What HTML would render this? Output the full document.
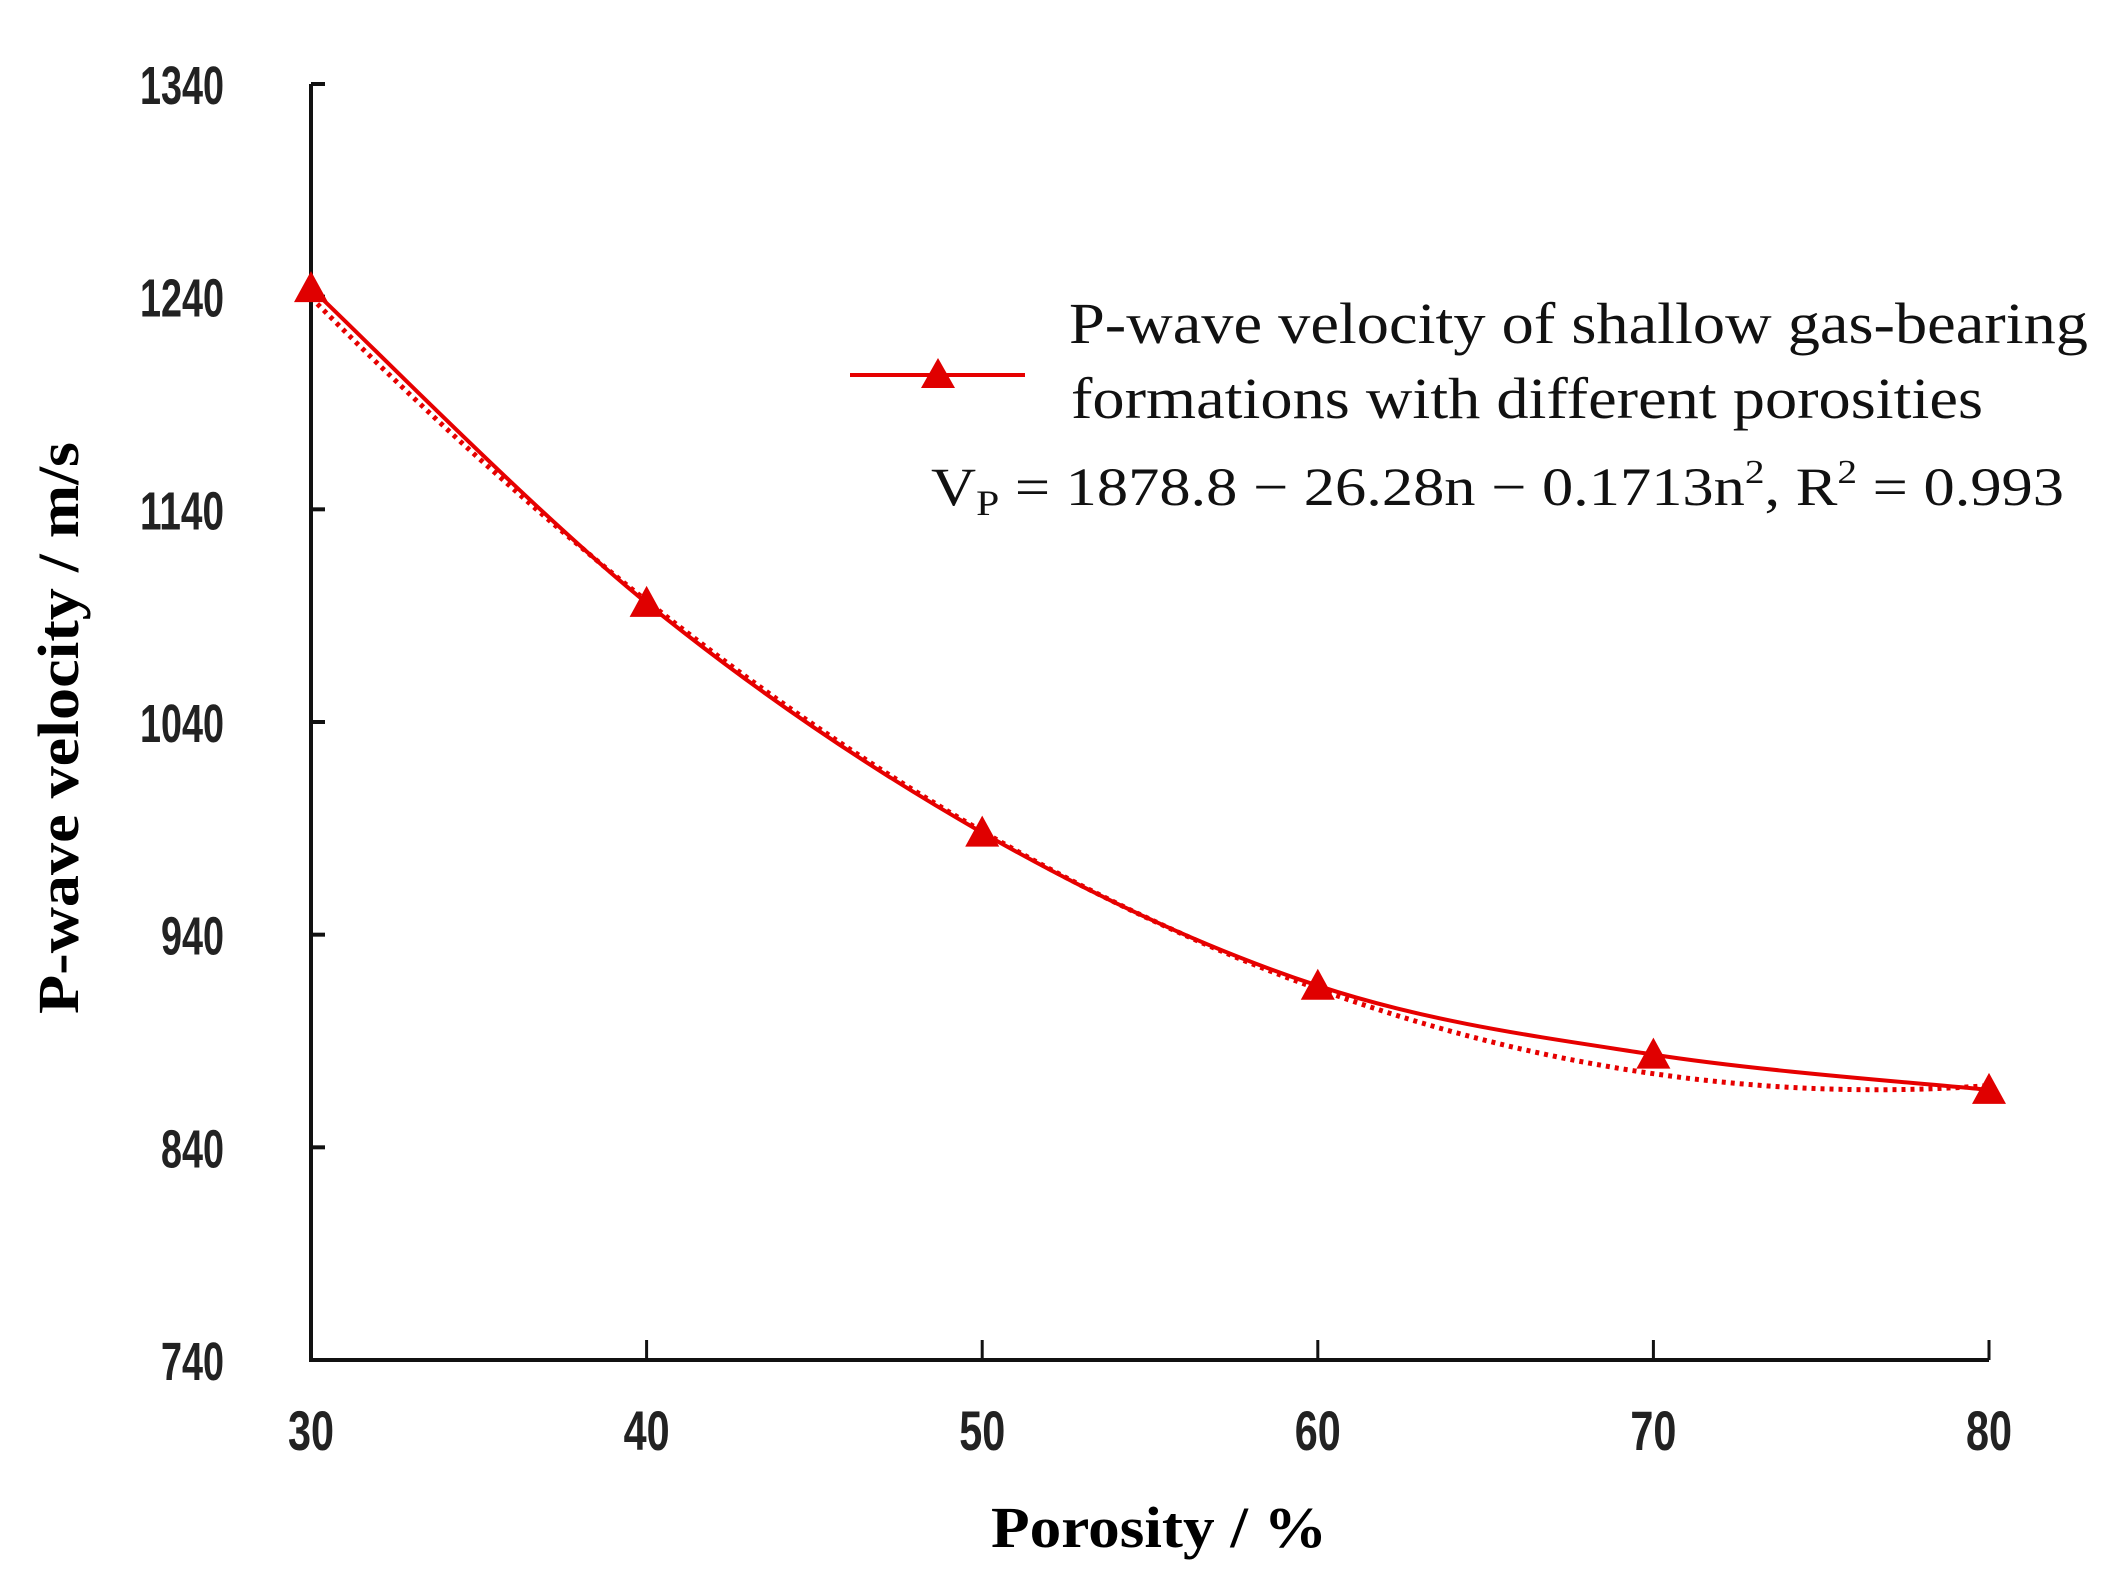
<!DOCTYPE html>
<html><head><meta charset="utf-8"><style>
html,body{margin:0;padding:0;background:#fff;}
svg{display:block;}
</style></head><body>
<svg id="chart" width="2124" height="1590" viewBox="0 0 2124 1590" xmlns="http://www.w3.org/2000/svg">
<rect width="2124" height="1590" fill="#fff"/>
<g id="axes"></g>
<g id="marks"></g>
<g>
  <line x1="850" y1="375" x2="1025" y2="375" stroke="#e60000" stroke-width="4"/>
  <polygon points="938,358 921,388 955,388" fill="#e00000"/>
  <text x="1069" y="343" font-family="Liberation Serif, serif" font-size="58" textLength="1019" lengthAdjust="spacingAndGlyphs" fill="#111">P-wave velocity of shallow gas-bearing</text>
  <text x="1071" y="418" font-family="Liberation Serif, serif" font-size="58" textLength="912" lengthAdjust="spacingAndGlyphs" fill="#111">formations with different porosities</text>
  <text x="931" y="505" font-family="Liberation Serif, serif" font-size="54" textLength="1133" lengthAdjust="spacingAndGlyphs" fill="#111">V<tspan font-size="36" dy="10">P</tspan><tspan dy="-10"> = 1878.8 − 26.28n − 0.1713n</tspan><tspan font-size="34" dy="-22">2</tspan><tspan dy="22">, R</tspan><tspan font-size="34" dy="-22">2</tspan><tspan dy="22"> = 0.993</tspan></text>
</g>
<text x="1159" y="1547" text-anchor="middle" font-family="Liberation Serif, serif" font-weight="bold" font-size="58" textLength="336" lengthAdjust="spacingAndGlyphs" fill="#000">Porosity / %</text>
<text transform="translate(78,728) rotate(-90)" text-anchor="middle" font-family="Liberation Serif, serif" font-weight="bold" font-size="58" textLength="572" lengthAdjust="spacingAndGlyphs" fill="#000">P-wave velocity / m/s</text>
</svg>
<script>
const categories = [30, 40, 50, 60, 70, 80];
const velocity = [1244, 1096, 988, 916, 883.6, 867];
const yTicks = [740, 840, 940, 1040, 1140, 1240, 1340];
const xTicks = [30, 40, 50, 60, 70, 80];

const NS = "http://www.w3.org/2000/svg";
const X0 = 311, X1 = 1989, Y0 = 1360, Y1 = 84;
const xMin = 30, xMax = 80, yMin = 740, yMax = 1340;
function sx(v){ return X0 + (v - xMin) / (xMax - xMin) * (X1 - X0); }
function sy(v){ return Y0 - (v - yMin) / (yMax - yMin) * (Y0 - Y1); }
function mk(tag, attrs, parent){
  const e = document.createElementNS(NS, tag);
  for (const k in attrs) e.setAttribute(k, attrs[k]);
  parent.appendChild(e); return e;
}
const axes = document.getElementById('axes');
const marks = document.getElementById('marks');

const ya = mk('line', {x1:X0, y1:Y1, x2:X0, y2:Y0, stroke:'#111', 'stroke-width':4}, axes);


const xa = mk('line', {x1:X0-2, y1:Y0, x2:X1, y2:Y0, stroke:'#111', 'stroke-width':4}, axes);



yTicks.forEach(v => {
  const y = sy(v);
  if (v !== yMin) {
    const t = mk('line', {x1:X0, y1:y, x2:X0+14, y2:y, stroke:'#111', 'stroke-width':4}, axes);
    
    
  }
  const l = mk('text', {x:224, y:y+20, 'text-anchor':'end', 'font-family':'Liberation Sans, sans-serif', 'font-size':54, 'font-weight':'bold', fill:'#222', textLength:(String(v).length*21), lengthAdjust:'spacingAndGlyphs'}, axes);
  l.textContent = v;
  
  
});
xTicks.forEach(v => {
  const x = sx(v);
  if (v !== xMin) {
    const t = mk('line', {x1:x, y1:Y0, x2:x, y2:Y0-20, stroke:'#111', 'stroke-width':3}, axes);
    
    
  }
  const l = mk('text', {x:x, y:1450, 'text-anchor':'middle', 'font-family':'Liberation Sans, sans-serif', 'font-size':56, 'font-weight':'bold', fill:'#222', textLength:46, lengthAdjust:'spacingAndGlyphs'}, axes);
  l.textContent = v;
  
  
});

// quadratic least-squares trend from data
(function(){
  const n = categories.length;
  let S = [0,0,0,0,0], T = [0,0,0];
  for (let i=0;i<n;i++){ const x=categories[i], y=velocity[i];
    for (let k=0;k<5;k++) S[k]+=Math.pow(x,k);
    for (let k=0;k<3;k++) T[k]+=y*Math.pow(x,k); }
  const A = [[S[0],S[1],S[2],T[0]],[S[1],S[2],S[3],T[1]],[S[2],S[3],S[4],T[2]]];
  for (let i=0;i<3;i++){ for (let j=i+1;j<3;j++){ const f=A[j][i]/A[i][i]; for(let k=i;k<4;k++) A[j][k]-=f*A[i][k]; } }
  const c=[0,0,0];
  for (let i=2;i>=0;i--){ let s=A[i][3]; for(let k=i+1;k<3;k++) s-=A[i][k]*c[k]; c[i]=s/A[i][i]; }
  let d='';
  for (let x=categories[0]; x<=categories[n-1]+0.001; x+=0.5){
    const y=c[0]+c[1]*x+c[2]*x*x; d+=(d?'L':'M')+sx(x).toFixed(1)+','+(sy(y)+4).toFixed(1);
  }
  const p = mk('path', {d:d, fill:'none', stroke:'#e60000', 'stroke-width':5, 'stroke-dasharray':'4 5'}, marks);
  
  
})();

// smooth series line (Catmull-Rom)
(function(){
  const pts = categories.map((c,i)=>[sx(c), sy(velocity[i])]);
  let d = 'M'+pts[0][0]+','+pts[0][1];
  for (let i=0;i<pts.length-1;i++){
    const p0=pts[Math.max(0,i-1)], p1=pts[i], p2=pts[i+1], p3=pts[Math.min(pts.length-1,i+2)];
    const c1=[p1[0]+(p2[0]-p0[0])/6, p1[1]+(p2[1]-p0[1])/6];
    const c2=[p2[0]-(p3[0]-p1[0])/6, p2[1]-(p3[1]-p1[1])/6];
    d+=' C'+c1[0]+','+c1[1]+' '+c2[0]+','+c2[1]+' '+p2[0]+','+p2[1];
  }
  const p = mk('path', {d:d, fill:'none', stroke:'#e60000', 'stroke-width':4}, marks);
  
  
  pts.forEach(pt => {
    const t = mk('polygon', {points:`${pt[0]},${pt[1]-17} ${pt[0]-17},${pt[1]+14} ${pt[0]+17},${pt[1]+14}`, fill:'#e00000'}, marks);
    
    
  });
})();
</script>
</body></html>
